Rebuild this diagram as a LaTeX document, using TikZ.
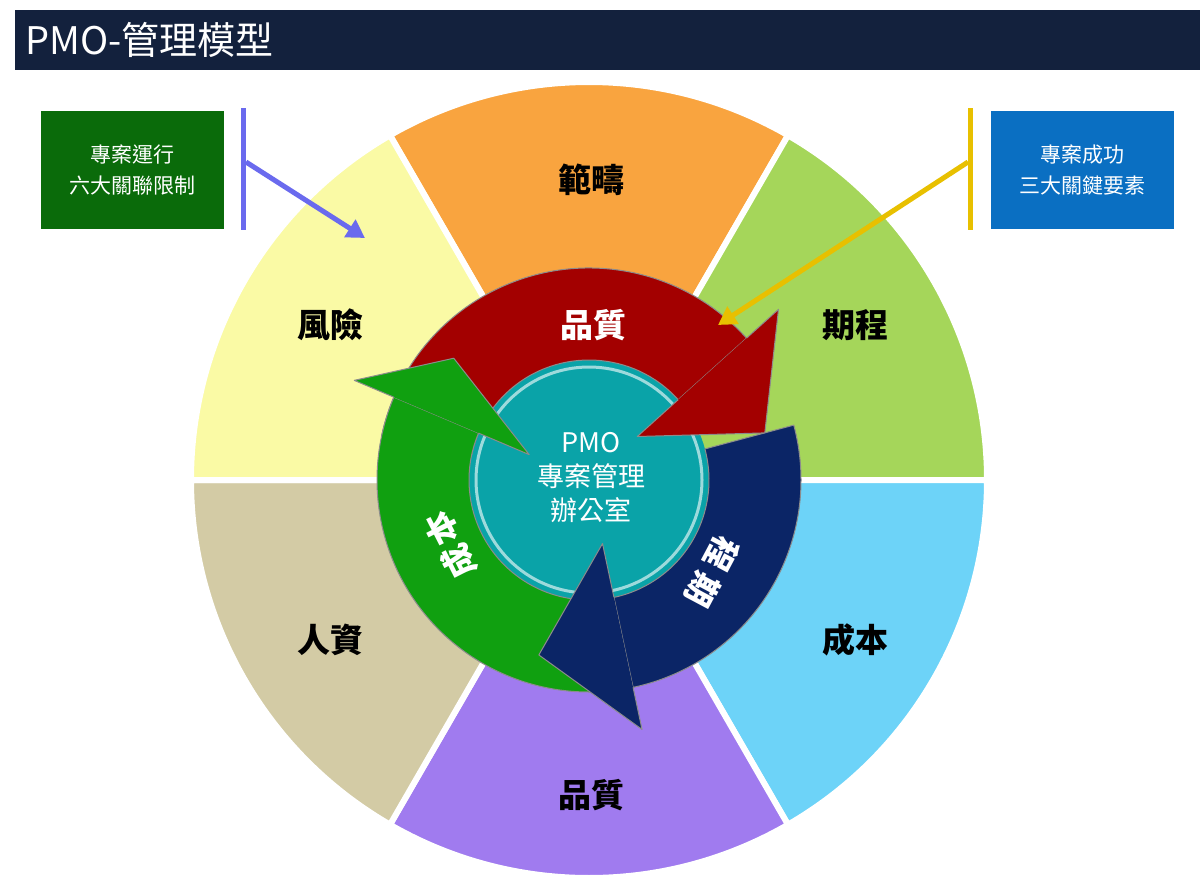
\documentclass[tikz,border=0pt]{standalone}
\usepackage{fontspec}
\setmainfont{Noto Sans CJK TC}
\usetikzlibrary{arrows.meta,calc}
\definecolor{titlebg}{HTML}{13213D}
\definecolor{cScope}{HTML}{F9A43F}
\definecolor{cSched}{HTML}{A5D65A}
\definecolor{cCost}{HTML}{6DD3F8}
\definecolor{cQual}{HTML}{A07BEF}
\definecolor{cHR}{HTML}{D3CBA5}
\definecolor{cRisk}{HTML}{FAFAA5}
\definecolor{cTeal}{HTML}{0AA3A8}
\definecolor{aRed}{HTML}{A30000}
\definecolor{aNavy}{HTML}{0B2566}
\definecolor{aGreen}{HTML}{10A010}
\definecolor{boxG}{HTML}{0A6B0A}
\definecolor{boxB}{HTML}{0A6FC2}
\definecolor{pBlue}{HTML}{6A6AEE}
\definecolor{pGold}{HTML}{E8C000}
\tikzset{
  seg/.style={draw=white,line width=6pt,line join=round},
  seglabel/.style={font=\fontsize{33}{38}\selectfont\bfseries},
  arrlabel/.style={font=\fontsize{33}{38}\selectfont\bfseries,text=white,inner sep=0pt},
  band/.style={draw=black!45,line width=1pt,line join=round},
  callout/.style={draw=white,line width=2pt,minimum width=185pt,minimum height=120pt,text=white,align=center,font=\fontsize{21}{31}\selectfont},
  pointer/.style={line width=5pt,-{Triangle[length=18pt,width=20pt]}},
}
\newcommand{\segslice}[3]{\fill[#3] (589,-480) -- ++(#1:398) arc (#1:#2:398) -- cycle;
  \draw[seg] (589,-480) -- ++(#1:398) arc (#1:#2:398) -- cycle;}
\newcommand{\arrband}[3]{\path[fill=#3,band] (589,-480) ++(#1:212) arc (#1:#2:212) -- ++(#2+180:92) arc (#2:#1:120) -- cycle;}
\newcommand{\arrhead}[3]{\path[fill=#3,band] (589,-480) ++(#1:212) -- ($(589,-480)+(#1:255)$) -- ($(589,-480)+(#2:182)$) -- ($(589,-480)+(#1:65)$) -- ($(589,-480)+(#1:120)$);}
\begin{document}
\begin{tikzpicture}[x=1pt,y=1pt]
\useasboundingbox (0,0) rectangle (1200,-878);
\fill[white] (0,0) rectangle (1200,-878);
\fill[titlebg] (15,-10) rectangle (1200,-70);
\node[anchor=west,text=white,font=\fontsize{38}{44}\selectfont] (title) at (22,-40) {PMO-管理模型};
\segslice{60}{120}{cScope}
\segslice{0}{60}{cSched}
\segslice{-60}{0}{cCost}
\segslice{-120}{-60}{cQual}
\segslice{180}{240}{cHR}
\segslice{120}{180}{cRisk}
\node[seglabel] (s1) at (591,-180) {範疇};
\node[seglabel] (s2) at (855,-325) {期程};
\node[seglabel] (s3) at (855,-640) {成本};
\node[seglabel] (s4) at (591,-795) {品質};
\node[seglabel] (s5) at (330,-640) {人資};
\node[seglabel] (s6) at (330,-325) {風險};
\fill[cTeal] (589,-480) circle (120);
\draw[white!60!cTeal,line width=3pt] (589,-480) circle (113);
\arrband{168}{42}{aRed}
\arrband{15}{-78}{aNavy}
\arrband{-88}{-203}{aGreen}
\arrhead{42}{15}{aRed}
\arrhead{-203}{-222}{aGreen}
\arrhead{-78}{-106}{aNavy}
\node[arrlabel] (a1) at (593,-325) {品質};
\node[arrlabel,rotate=117] (a2a) at (459,-562) {成};
\node[arrlabel,rotate=117] (a2b) at (442,-528) {本};
\node[arrlabel,rotate=-118] (a3a) at (703,-590) {期};
\node[arrlabel,rotate=-118] (a3b) at (722,-554) {程};
\node[text=white,align=center,font=\fontsize{27}{34}\selectfont] (pmo) at (591,-478) {PMO\\專案管理\\辦公室};
\node[callout,fill=boxG] (bl) at (132,-170) {專案運行\\六大關聯限制};
\node[callout,fill=boxB] (br) at (1082,-170) {專案成功\\三大關鍵要素};
\fill[pBlue] (241,-108) rectangle (246,-230);
\fill[pGold] (968,-108) rectangle (973,-230);
\coordinate (p1s) at (246,-162);
\coordinate (p1e) at (365,-238);
\coordinate (p2s) at (968,-162);
\coordinate (p2e) at (718,-325);
\draw[pointer,pBlue] (p1s) -- (p1e);
\draw[pointer,pGold] (p2s) -- (p2e);
\end{tikzpicture}
\end{document}
